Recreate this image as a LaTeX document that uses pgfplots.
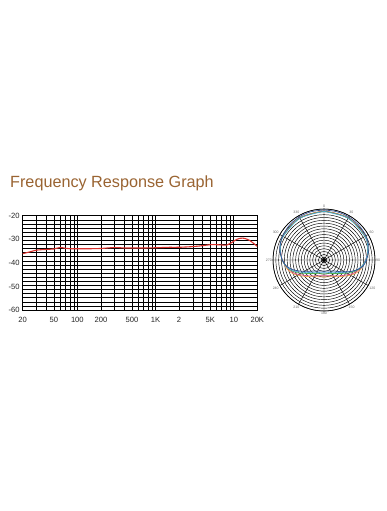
\documentclass[border=0pt]{standalone}
\usepackage{fontspec}
\setmainfont{Liberation Sans}
\usepackage{pgfplots}
\pgfplotsset{compat=1.18}
\usepgfplotslibrary{polar}
\definecolor{titlebrown}{HTML}{9A6432}
\definecolor{fr}{HTML}{D8302C}
\definecolor{pblue}{HTML}{2E4F92}
\definecolor{pcyan}{HTML}{48A8DA}
\definecolor{pgreen}{HTML}{4CAF50}
\definecolor{pmag}{HTML}{D8407E}
\definecolor{porange}{HTML}{F0A040}
\begin{document}
\begin{tikzpicture}
\path[use as bounding box, fill=white] (0,0) rectangle (386pt,-511pt);
\node[anchor=base west, inner sep=0pt, font=\fontsize{16.2}{19}\selectfont, text=titlebrown] at (10pt,-187pt) {Frequency Response Graph};
\begin{axis}[
  at={(22.7pt,-310pt)}, anchor=south west,
  scale only axis, width=234.6pt, height=94.3pt,
  xmode=log, xmin=20, xmax=20000, ymin=-60, ymax=-20,
  /pgf/number format/assume math mode=true,
  xtick={20,50,100,200,500,1000,2000,5000,10000,20000},
  xticklabels={20,50,100,200,500,1K,2,5K,10,20K},
  minor xtick={30,40,60,70,80,90,300,400,600,700,800,900,3000,4000,6000,7000,8000,9000},
  ytick={-60,-50,-40,-30,-20},
  yticklabels={-60,-50,-40,-30,-20},
  minor ytick={-21.739,-23.478,-25.217,-26.957,-28.696,-30.435,-32.174,-33.913,-35.652,-37.391,-39.130,-40.870,-42.609,-44.348,-46.087,-47.826,-49.565,-51.304,-53.043,-54.783,-56.522,-58.261},
  xmajorgrids, xminorgrids, ymajorgrids=false, yminorgrids,
  major grid style={black, line width=0.55pt},
  minor grid style={black, line width=0.55pt},
  axis line style={black, line width=0.6pt},
  major tick length=0pt, minor tick length=0pt,
  tick label style={font=\fontsize{7.6}{8}\selectfont, text=black!85},
  xticklabel style={yshift=-4pt},
  yticklabel style={xshift=0.5pt},
]
\addplot[fr, line width=1.1pt, smooth] coordinates {
(20,-36.1) (25,-35.3) (30,-34.6) (40,-34.3) (50,-34.1) (60,-33.5) (70,-33.8) (80,-34.0) (100,-34.0) (150,-34.0) (200,-33.9) (300,-33.5) (400,-33.7) (500,-33.7) (700,-33.7) (1000,-33.6) (1500,-33.4) (2000,-33.4) (3000,-33.1) (4000,-32.7) (5000,-32.3) (6000,-32.3) (7000,-32.4) (8000,-32.5) (9000,-31.8) (10000,-30.8) (11000,-30.0) (12000,-29.6) (13000,-29.5) (14000,-29.7) (16000,-30.5) (18000,-31.8) (20000,-33.0)
};
\end{axis}
\begin{polaraxis}[
  at={(324pt,-260pt)}, anchor=center,
  scale only axis, width=102pt, height=102pt,
  ymin=0, ymax=36, ytick={2,4,...,36}, yticklabels={},
  xtick={0,30,...,330},
  xticklabels={90,60,30,0,330,300,270,240,210,180,150,120},
  /pgf/number format/assume math mode=true,
  grid=major,
  major grid style={black, line width=0.45pt},
  separate axis lines,
  x axis line style={black, line width=0.6pt},
  y axis line style={draw=none},
  major tick length=0pt,
  xticklabel style={font=\fontsize{3.5}{4}\selectfont, text=black!60, inner sep=1pt},
  x filter/.expression={90-x},
]
\addplot[porange, line width=0.6pt, smooth] coordinates {
(0,34.8) (30,34.5) (60,33.6) (75,32.0) (90,29.5) (105,26.5) (115,23.5) (125,19.5) (135,16.5) (150,13.5) (165,12.3) (180,12.0) (195,12.3) (210,13.5) (225,16.5) (235,19.5) (245,23.5) (255,26.5) (270,29.5) (285,32.0) (300,33.6) (330,34.5) (360,34.8)
};
\addplot[pmag, line width=0.6pt, smooth] coordinates {
(0,34.6) (30,34.3) (60,33.4) (75,31.8) (90,29.3) (105,25.8) (115,22.5) (125,18.5) (135,15.8) (150,13.0) (165,11.5) (180,11.0) (195,11.5) (210,13.0) (225,15.8) (235,18.5) (245,22.5) (255,25.8) (270,29.3) (285,31.8) (300,33.4) (330,34.3) (360,34.6)
};
\addplot[pgreen, line width=0.6pt, smooth] coordinates {
(0,34.5) (30,34.2) (60,33.4) (75,32.0) (90,29.5) (105,25.5) (115,21.0) (125,16.5) (135,13.5) (150,11.0) (165,10.0) (180,9.8) (195,10.0) (210,11.0) (225,13.5) (235,16.5) (245,21.0) (255,25.5) (270,29.5) (285,32.0) (300,33.4) (330,34.2) (360,34.5)
};
\addplot[pcyan, line width=0.6pt, smooth] coordinates {
(0,34.3) (30,34.0) (60,33.3) (75,32.0) (90,29.5) (100,27.0) (108,23.5) (115,19.8) (125,15.5) (135,12.3) (145,10.5) (160,9.4) (180,9.0) (200,9.4) (215,10.5) (225,12.3) (235,15.5) (245,19.8) (252,23.5) (260,27.0) (270,29.5) (285,32.0) (300,33.3) (330,34.0) (360,34.3)
};
\addplot[pblue, line width=0.7pt, smooth] coordinates {
(0,35.3) (15,35.3) (30,35.1) (45,34.7) (60,34.2) (75,32.8) (90,30.0) (100,27.5) (108,23.5) (115,19.5) (125,14.5) (135,11.0) (145,9.5) (160,8.3) (180,7.9) (200,8.3) (215,9.5) (225,11.0) (235,14.0) (245,18.5) (252,22.5) (260,26.6) (270,29.5) (285,32.4) (300,33.8) (315,34.6) (330,35.1) (345,35.3) (360,35.3)
};
\addplot[only marks, mark=*, mark size=1.6pt, black] coordinates {(0,0)};
\end{polaraxis}
\end{tikzpicture}
\end{document}
